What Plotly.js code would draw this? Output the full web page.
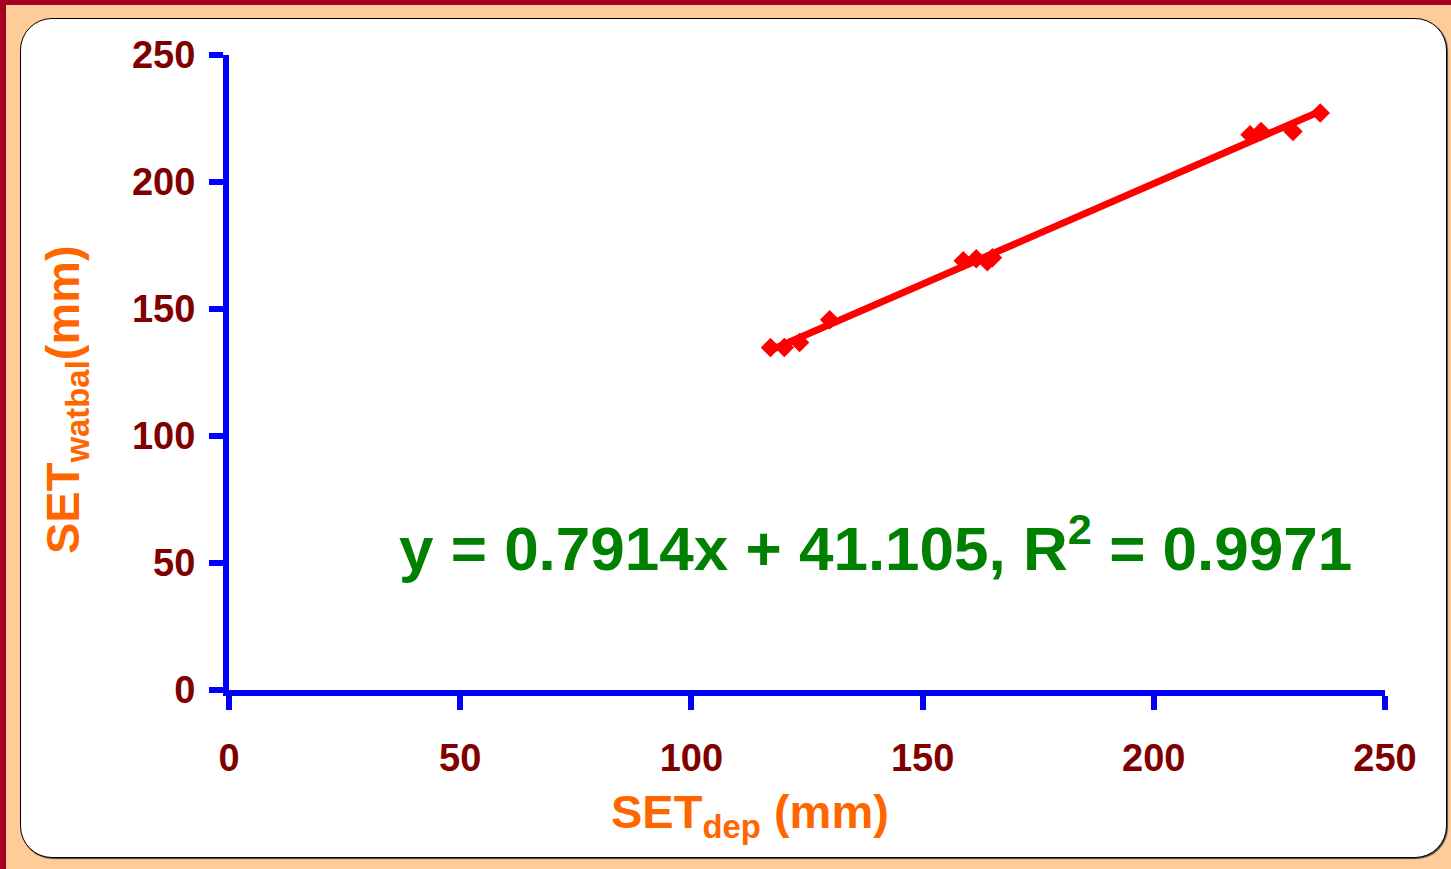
<!DOCTYPE html>
<html>
<head>
<meta charset="utf-8">
<script src="https://cdn.plot.ly/plotly-3.0.1.min.js"></script>
<style>
  html, body { margin: 0; padding: 0; width: 1451px; height: 869px; overflow: hidden; }
  body { background: #FFCC99; position: relative; }
  #frameL { position: absolute; left: 0; top: 0; width: 6px; height: 869px; background: #A50021; }
  #frameT { position: absolute; left: 0; top: 0; width: 1451px; height: 5px; background: #A50021; }
  #box { position: absolute; left: 20px; top: 18px; width: 1425px; height: 838px;
         background: #ffffff; border: 1.5px solid #000; border-radius: 32px;
         box-shadow: 1px 1px 1px #444; }
  #chart { position: absolute; left: 0; top: 0; width: 1451px; height: 869px; }
</style>
</head>
<body>
<div id="frameL"></div>
<div id="frameT"></div>
<div id="box"></div>
<div id="chart"></div>
<script>
// Data
const setDep    = [117.1, 120.1, 123.4, 129.9, 158.8, 161.6, 164.0, 165.1, 220.8, 223.2, 230.1, 236.0];
const setWatbal = [134.8, 134.8, 136.8, 145.8, 169.0, 169.8, 168.6, 170.2, 218.6, 219.9, 219.9, 227.2];

// Trendline coefficients as printed on the chart
const slope = 0.7914;
const intercept = 41.105;
const r2 = 0.9971;

const tickVals = [0, 50, 100, 150, 200, 250];
const tickText = ['0', '50', '100', '150', '200', '250'];

const xTitle = 'SET<sub>dep</sub> (mm)';
const yTitle = 'SET<sub>watbal</sub>(mm)';

const xMin = Math.min(...setDep), xMax = Math.max(...setDep);
const trendX = [xMin, xMax];
const trendY = trendX.map(v => slope * v + intercept);

const FONT = '"Liberation Sans", Arial, sans-serif';

const traces = [
  {
    x: trendX, y: trendY, type: 'scatter', mode: 'lines',
    line: { color: '#FF0000', width: 7 }, hoverinfo: 'skip', showlegend: false
  },
  {
    x: setDep, y: setWatbal, type: 'scatter', mode: 'markers',
    marker: { symbol: 'diamond', size: 15, color: '#FF0000', line: { width: 0 } },
    showlegend: false
  }
];

const axisCommon = {
  range: [0, 250],
  tickvals: tickVals,
  ticktext: tickText,
  showgrid: false,
  zeroline: false,
  showline: true,
  linecolor: '#0000FF',
  linewidth: 6,
  ticks: 'outside',
  ticklen: 14,
  tickwidth: 6,
  tickcolor: '#0000FF',
  tickfont: { family: FONT, size: 38, color: '#800000', weight: 'bold' },
  fixedrange: true
};

const titleFont = { family: FONT, size: 47, color: '#FF6600', weight: 'bold' };

const layout = {
  width: 1451, height: 869,
  paper_bgcolor: 'rgba(0,0,0,0)',
  plot_bgcolor: 'rgba(0,0,0,0)',
  margin: { l: 229, r: 66, t: 55, b: 179 },
  xaxis: Object.assign({}, axisCommon, { ticklabelstandoff: 15 }),
  yaxis: Object.assign({}, axisCommon, { ticklabelstandoff: 6 }),
  annotations: [
    {
      x: 139.8, y: 57.4, xref: 'x', yref: 'y',
      text: 'y = ' + slope + 'x + ' + intercept + ', R<sup>2</sup> = ' + r2,
      showarrow: false, xanchor: 'center', yanchor: 'middle',
      font: { family: FONT, size: 62, color: '#008000', weight: 'bold' }
    },
    {
      x: 0, y: 0, xref: 'paper', yref: 'paper',
      xshift: 521, yshift: -125,
      text: xTitle, showarrow: false, xanchor: 'center', yanchor: 'middle',
      font: titleFont
    },
    {
      x: 0, y: 0, xref: 'paper', yref: 'paper',
      xshift: -163, yshift: 290,
      text: yTitle, textangle: -90, showarrow: false, xanchor: 'center', yanchor: 'middle',
      font: titleFont
    }
  ]
};

Plotly.newPlot('chart', traces, layout, { displayModeBar: false, staticPlot: true });
</script>
</body>
</html>
